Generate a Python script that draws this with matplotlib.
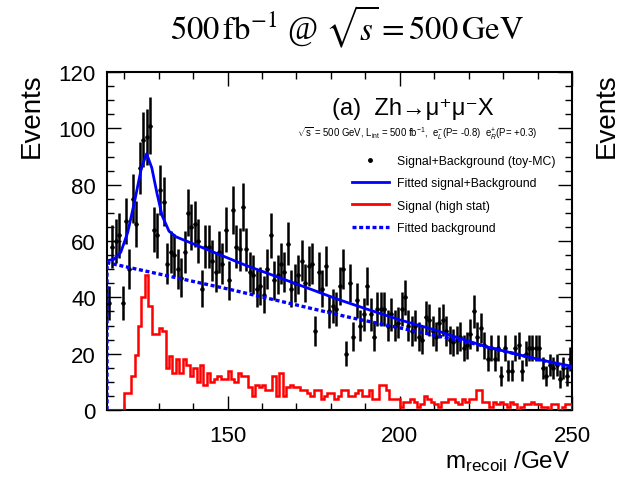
"""Recoil mass spectrum for Zh -> mu+ mu- X at 500 GeV."""

import matplotlib

matplotlib.use("Agg")
import numpy as np
from matplotlib import pyplot as plt
from matplotlib.lines import Line2D
from matplotlib.ticker import MultipleLocator

# 1 GeV bins from 115 to 250 GeV
BIN_LOW = 115
BIN_HIGH = 250

# toy-MC signal + background counts per bin
events = [
    38, 58, 60, 62, 38, 67, 50, 75, 66, 86,
    96, 97, 101, 64, 62, 78, 74, 52, 56, 55,
    50, 47, 56, 70, 65, 66, 60, 43, 58, 58,
    53, 49, 56, 52, 64, 46, 71, 58, 57, 72,
    57, 49, 48, 43, 44, 41, 50, 62, 46, 48,
    52, 49, 59, 43, 45, 48, 53, 45, 51, 52,
    28, 49, 43, 51, 35, 37, 36, 44, 50, 20,
    45, 26, 39, 30, 34, 44, 34, 26, 36, 36,
    36, 30, 34, 30, 31, 36, 40, 30, 28, 30,
    26, 25, 33, 32, 28, 26, 31, 32, 28, 25,
    24, 25, 26, 22, 23, 27, 35, 26, 29, 23,
    18, 22, 18, 22, 12, 22, 14, 14, 22, 23,
    14, 20, 22, 22, 22, 22, 15, 12, 16, 15,
    16, 11, 15, 12, 18,
]

# signal only (high statistics), same binning
signal = [
    0, 0, 0, 0, 0, 6, 6, 12, 19.5, 30,
    40, 48, 37, 27, 27, 29, 28, 15, 19, 13,
    18, 13, 18, 16, 12, 15, 10, 16, 9, 13,
    10, 11, 12, 11, 11, 14, 11, 10, 13, 12,
    12, 8, 5, 9, 8, 9, 7, 7, 12, 5,
    13, 5, 8, 9, 8, 8, 7, 7, 6, 5,
    7, 7, 4, 5, 6, 6, 4, 5, 7, 7,
    5, 5, 6, 7, 5, 5, 7, 4, 4, 9,
    9, 7, 4, 4, 4, 1, 3, 3, 4, 3,
    1, 2, 5, 4, 3, 2, 1, 3, 3, 4,
    4, 3, 2, 4, 3, 4, 4, 7, 7, 3,
    3, 1, 3, 2, 3, 2, 1, 3, 2, 0,
    1, 2, 2, 3, 2, 2, 1, 1, 0, 2,
    2, 0, 1, 2, 2,
]

# fitted signal+background curve
fit_x = [115, 117, 119, 121, 123, 125, 126.5, 128, 129.5, 131, 133, 135,
         139, 144, 148, 155, 165, 175, 182, 190, 200, 210, 216, 225, 235,
         242, 250]
fit_y = [53, 53.5, 56, 63, 74, 86, 91, 86, 77, 69, 63.5, 61.5,
         59.5, 57, 55, 51.5, 47, 42.5, 39.3, 36, 32, 28.5, 26, 22.5, 19.5,
         17.5, 15.5]

# fitted background
bkg_x = [115, 115, 150, 185, 220, 250]
bkg_y = [0, 52.3, 43, 33, 24, 15]

SANS = ["Liberation Sans", "DejaVu Sans"]
plt.rcParams["font.family"] = SANS
plt.rcParams["mathtext.fontset"] = "custom"
plt.rcParams["mathtext.rm"] = "Liberation Sans"
plt.rcParams["mathtext.it"] = "Liberation Sans:italic"

edges = np.arange(BIN_LOW, BIN_HIGH + 1)
centers = edges[:-1] + 0.5
counts = np.array(events, dtype=float)

fig = plt.figure(figsize=(6.23, 4.81), dpi=100)
ax = fig.add_axes([107 / 623, 70 / 481, 465 / 623, 338 / 481])

bars = ax.errorbar(centers, counts, yerr=np.sqrt(counts), xerr=0.5, fmt="o",
                   ms=2.2, color="black", ecolor="black", elinewidth=1.8,
                   capsize=0, zorder=2)
bars[2][0].set_linewidth(0.8)
ax.stairs(signal, edges, color="#ff0000", linewidth=1.8, zorder=3)
ax.plot(bkg_x, bkg_y, color="#0000ff", linewidth=2.4, linestyle=(0, (1.2, 0.8)), zorder=4)
ax.plot(fit_x, fit_y, color="#0000ff", linewidth=2.0, zorder=4)

ax.set_xlim(BIN_LOW, BIN_HIGH)
ax.set_ylim(0, 120)
ax.xaxis.set_major_locator(MultipleLocator(50))
ax.xaxis.set_minor_locator(MultipleLocator(10))
ax.yaxis.set_major_locator(MultipleLocator(20))
ax.yaxis.set_minor_locator(MultipleLocator(5))
ax.tick_params(which="both", direction="in", top=True, right=True, width=1.0,
               labelsize=16, colors="black")
ax.tick_params(which="major", length=10)
ax.tick_params(which="minor", length=5)
ax.tick_params(axis="x", pad=11)
ax.tick_params(axis="y", pad=8)
for spine in ax.spines.values():
    spine.set_linewidth(1.5)

handles = [
    Line2D([], [], marker="o", ms=2.5, color="black", linestyle="none"),
    Line2D([], [], color="#0000ff", linewidth=2.0),
    Line2D([], [], color="#ff0000", linewidth=2.0),
    Line2D([], [], color="#0000ff", linewidth=2.4, linestyle=(0, (1.2, 0.8))),
]
labels = ["Signal+Background (toy-MC)", "Fitted signal+Background",
          "Signal (high stat)", "Fitted background"]
ax.legend(handles, labels, loc="upper left", bbox_to_anchor=(352 / 623, 1 - 156 / 481),
          bbox_transform=fig.transFigure, frameon=False, borderpad=0,
          borderaxespad=0, handlelength=3.0, handletextpad=0.72, labelspacing=0.84,
          prop={"family": SANS, "size": 8.8})

fig.text(332 / 623, 1 - 115 / 481, "(a)  Zh\u2192\u03bc\u207a\u03bc\u207bX",
         fontsize=17, va="baseline")
fig.text(297 / 623, 1 - 137 / 481,
         r"$\sqrt{\mathrm{s}}$ = 500 GeV, L$_{\mathrm{int}}$ = 500 fb$^{-1}$,  "
         r"e$^{-}_{L}$(P= -0.8)  e$^{+}_{R}$(P= +0.3)",
         fontsize=6.9, va="baseline")

fig.text(347 / 623, 1 - 27 / 481,
         r"$500\,\mathrm{fb}^{-1}$ @ $\sqrt{s} = 500\,\mathrm{GeV}$",
         family=["Liberation Serif", "DejaVu Serif"], fontsize=23.5,
         ha="center", va="center", math_fontfamily="stix")

fig.text(32 / 623, 1 - 73 / 481, "Events", rotation=90, fontsize=20,
         ha="center", va="top")
fig.text(607 / 623, 1 - 73 / 481, "Events", rotation=90, fontsize=20,
         ha="center", va="top")
fig.text(571 / 623, 1 - 462 / 481, r"m$_{\mathrm{recoil}}$ /GeV", fontsize=17.5,
         ha="right", va="center")

fig.savefig("out.png", dpi=100)
plt.close(fig)
